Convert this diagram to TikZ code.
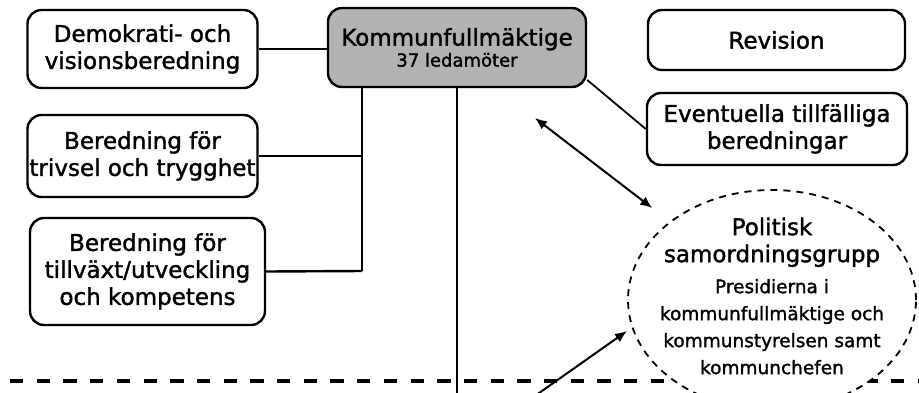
\documentclass[tikz,border=0pt]{standalone}
\usepackage{fontspec}
\setmainfont{DejaVu Sans}[UprightFeatures={FakeBold=1.5}]
\usetikzlibrary{shapes.geometric,arrows.meta}
\newcommand{\grpnote}{\fontsize{18.5}{27}\selectfont}

\begin{document}
\begin{tikzpicture}[
    x=1pt, y=-1pt,
    box/.style={rectangle, rounded corners=14pt, draw, line width=2.4pt, fill=white, inner sep=0pt, align=center, font=\fontsize{23}{27}\selectfont},
    council/.style={box, fill=black!30, font=\fontsize{23}{21}\selectfont},
    group/.style={ellipse, draw, dash pattern=on 7pt off 6pt, line width=1.8pt, fill=white, inner sep=0pt},
    grptext/.style={align=center, inner sep=0pt, font=\fontsize{23}{27}\selectfont},
    link/.style={draw, line width=2.4pt},
    trunk/.style={draw, line width=1.8pt},
    arrow/.style={draw, line width=2pt, -{Latex[length=12pt,width=10pt]}},
    divider/.style={draw, line width=3.2pt, dash pattern=on 13.3pt off 13.4pt}
]
\useasboundingbox (0,0) rectangle (919,392);
\clip (0,0) rectangle (919,392);

% Dashed divider
\coordinate (divL) at (10,381);
\coordinate (divR) at (930,381);
\path[divider] (divL) -- (divR);

% Define boxes
\node[box, minimum width=230pt, minimum height=78pt] (demo) at (142.5,49) {Demokrati- och\\visionsberedning};
\node[box, minimum width=230pt, minimum height=82pt] (triv) at (142.5,156) {Beredning för\\trivsel och trygghet};
\node[box, minimum width=235pt, minimum height=107pt] (tillv) at (147.5,271.5) {Beredning för\\tillväxt/utveckling\\och kompetens};
\node[council, minimum width=258pt, minimum height=79pt] (kf) at (457,47.5) {Kommunfullmäktige\\{\fontsize{18}{21}\selectfont 37 ledamöter}};
\node[box, minimum width=257pt, minimum height=60pt] (rev) at (776.5,40) {Revision};
\node[box, minimum width=260pt, minimum height=72pt] (evt) at (777,129) {Eventuella tillfälliga\\beredningar};
\node[group, minimum width=288pt, minimum height=220pt] (samgrp) at (772,300) {};
\node[grptext] (samgrpText) at (772,296) {Politisk\\samordningsgrupp\\[4pt]\grpnote Presidierna i\\\grpnote kommunfullmäktige och\\\grpnote kommunstyrelsen samt\\\grpnote kommunchefen};

% Free ends
\coordinate (trunkEnd) at (362,271);
\coordinate (kfDown) at (457,400);
\coordinate (arrTop) at (535,118);
\coordinate (arrLowStart) at (532,398);
\coordinate (arrLowEnd) at (627,331);

% Define connectors
\path[link] (demo.east) -- (demo.east -| kf.west);
\path[link] (triv.east) -- (triv.east -| trunkEnd);
\path[link] (tillv.east) -- (trunkEnd);
\path[trunk] (trunkEnd) -- (kf.south -| trunkEnd);
\path[trunk] (kf.south) -- (kfDown);
\path[trunk] (kf.-14) -- (evt.west);
\path[arrow, {Latex[length=12pt,width=10pt]}-{Latex[length=12pt,width=10pt]}, shorten >=22pt] (arrTop) -- (samgrp);
\path[arrow] (arrLowStart) -- (arrLowEnd);

\end{tikzpicture}
\end{document}
